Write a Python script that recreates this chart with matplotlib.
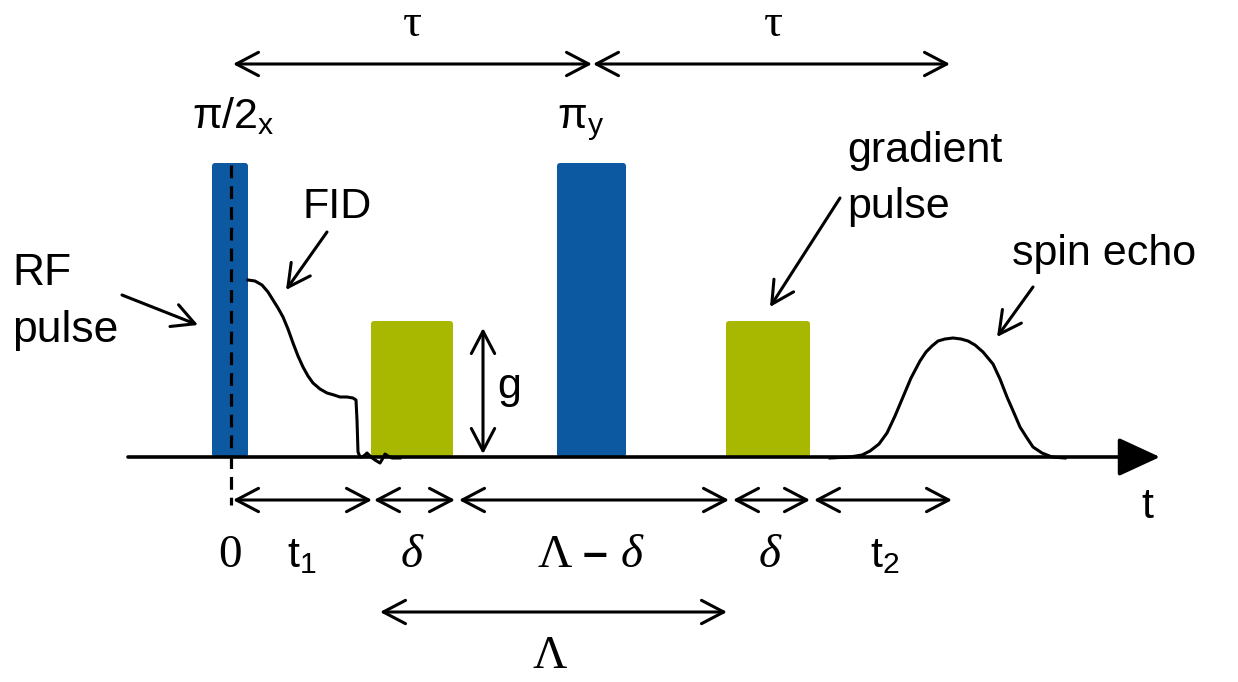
import matplotlib
matplotlib.use('Agg')
from matplotlib import pyplot as plt
from matplotlib.patches import FancyBboxPatch

# pulse blocks: (left, right, top) in picture units, baseline at y=457
rf_pulses = [(212, 248, 163), (557, 626, 163)]
grad_pulses = [(371, 453, 321), (726, 810, 321)]

# FID trace
fid_x = [248, 255, 262, 268, 273, 278, 283, 288, 293, 298, 303, 308, 313, 320, 327, 334,
         340, 347, 353, 356, 357, 358, 360, 362, 365, 367, 371, 375, 380, 383, 385, 388, 392, 400]
fid_y = [280, 281, 285, 292, 300, 308, 317, 329, 343, 356, 367, 376, 383, 389, 393, 395,
         397, 397, 398, 400, 420, 452, 457, 457, 455, 453, 457, 460, 463, 458, 454, 456, 458, 458]

# spin echo trace
echo_x = [830, 850, 862, 870, 879, 887, 895, 903, 911, 920, 926, 932, 938, 945, 953,
          961, 968, 975, 983, 993, 1000, 1007, 1014, 1020, 1027, 1033, 1042, 1052, 1065]
echo_y = [458, 457, 455, 451, 444, 433, 416, 397, 378, 361, 352, 346, 341, 339, 338,
          339, 341, 345, 352, 364, 379, 397, 413, 427, 438, 447, 453, 457, 458]

# interval arrows: (start, end, y)
spans = [(233, 592, 64), (593, 950, 64),
         (233, 372, 500), (374, 455, 500), (459, 729, 500), (733, 810, 500), (814, 952, 500),
         (380, 727, 612)]

blue = '#0c59a1'
green = '#a8b800'
sans = 'Liberation Sans'
serif = 'Liberation Serif'

fig = plt.figure(figsize=(12.38, 6.82), dpi=100)
ax = fig.add_axes([0, 0, 1, 1])
ax.set_xlim(0, 1238)
ax.set_ylim(682, 0)
ax.axis('off')

for l, r, top in rf_pulses:
    ax.add_patch(FancyBboxPatch((l, top), r - l, 457 - top, boxstyle='round,pad=0,rounding_size=3',
                                fc=blue, ec='none', zorder=2))
for l, r, top in grad_pulses:
    ax.add_patch(FancyBboxPatch((l, top), r - l, 457 - top, boxstyle='round,pad=0,rounding_size=3',
                                fc=green, ec='none', zorder=2))

# dashed time-zero line
ax.plot([231, 231], [165, 505], color='black', lw=2.3, ls=(0, (4, 2.5)), zorder=3)

# time axis
ax.annotate('', xy=(1160, 457), xytext=(128, 457),
            arrowprops=dict(arrowstyle='-|>,head_length=1.3,head_width=0.6', mutation_scale=20,
                            lw=2.6, color='black', shrinkA=0, shrinkB=0), zorder=4)

ax.plot(fid_x, fid_y, color='black', lw=2.2, zorder=3)
ax.plot(echo_x, echo_y, color='black', lw=2.2, zorder=3)

arrow_kw = dict(arrowstyle='<->,head_length=0.8,head_width=0.42', mutation_scale=20,
                lw=2.2, color='black', shrinkA=0, shrinkB=0)
for x0, x1, y in spans:
    ax.annotate('', xy=(x1, y), xytext=(x0, y), arrowprops=arrow_kw)

# gradient height arrow
ax.annotate('', xy=(483, 454), xytext=(483, 328), arrowprops=arrow_kw)
ax.text(497, 398, 'g', fontsize=31, family=sans, ha='left', va='baseline')

# pointer arrows
ptr_kw = dict(arrowstyle='->,head_length=0.8,head_width=0.42', mutation_scale=20,
              lw=2.2, color='black', shrinkA=0, shrinkB=0)
for (x0, y0), (x1, y1) in [((122, 295), (198, 325)), ((327, 232), (286, 290)),
                           ((840, 198), (770, 307)), ((1033, 287), (997, 337))]:
    ax.annotate('', xy=(x1, y1), xytext=(x0, y0), arrowprops=ptr_kw)

# labels
ax.text(12, 285, 'RF', fontsize=32, family=sans, va='baseline')
ax.text(12, 342, 'pulse', fontsize=32, family=sans, va='baseline')
ax.text(303, 218, 'FID', fontsize=31, family=sans, va='baseline')
ax.text(847, 162, 'gradient', fontsize=31, family=sans, va='baseline')
ax.text(847, 218, 'pulse', fontsize=31, family=sans, va='baseline')
ax.text(1012, 265, 'spin echo', fontsize=31, family=sans, va='baseline')
ax.text(192, 128, r'$\mathregular{\pi/2_x}$', fontsize=31, family=sans, va='baseline')
ax.text(557, 128, r'$\mathregular{\pi_y}$', fontsize=31, family=sans, va='baseline')
ax.text(412, 36, 'τ', fontsize=34, family=serif, ha='center', va='baseline')
ax.text(773, 36, 'τ', fontsize=34, family=serif, ha='center', va='baseline')
ax.text(1147, 518, 't', fontsize=31, family=sans, ha='center', va='baseline')

ax.text(230, 567, '0', fontsize=34, family=serif, ha='center', va='baseline')
ax.text(287, 567, r'$\mathregular{t_1}$', fontsize=31, family=sans, va='baseline')
ax.text(412, 567, 'δ', fontsize=34, family=serif, style='italic', ha='center', va='baseline')
ax.text(555, 567, 'Λ', fontsize=34, family=serif, ha='center', va='baseline')
ax.text(595, 567, '–', fontsize=32, family=sans, weight='bold', ha='center', va='baseline')
ax.text(632, 567, 'δ', fontsize=34, family=serif, style='italic', ha='center', va='baseline')
ax.text(770, 567, 'δ', fontsize=34, family=serif, style='italic', ha='center', va='baseline')
ax.text(870, 567, r'$\mathregular{t_2}$', fontsize=31, family=sans, va='baseline')
ax.text(550, 668, 'Λ', fontsize=34, family=serif, ha='center', va='baseline')

fig.savefig('out.png', dpi=100)
